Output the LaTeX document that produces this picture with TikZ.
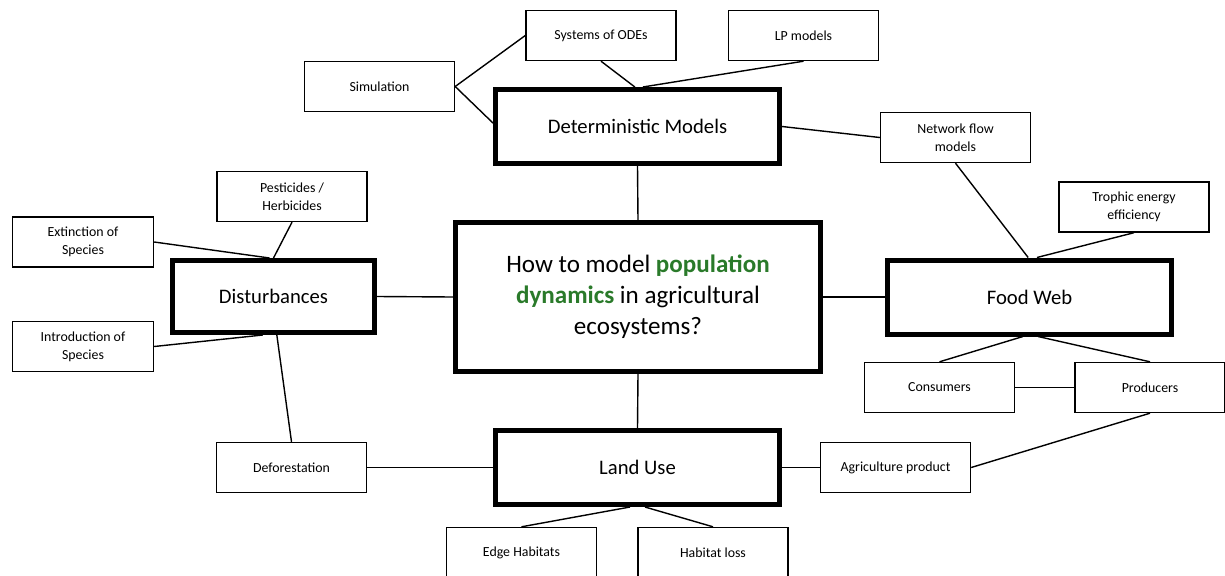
\documentclass[tikz,border=0pt]{standalone}
\usepackage{fontspec}
\setmainfont{Carlito}
\definecolor{popgreen}{RGB}{42,122,42}
\begin{document}
\begin{tikzpicture}[x=0.75pt,y=-0.75pt,
  small/.style={draw,line width=1.05pt,minimum width=112.5pt,minimum height=37.5pt,inner sep=0pt,align=center,font=\fontsize{10.4}{13.8}\selectfont},
  big/.style={draw,line width=3.75pt,minimum width=213pt,minimum height=55.5pt,inner sep=0pt,align=center,font=\fontsize{15.5}{19}\selectfont},
  link/.style={line width=1.05pt}]
\useasboundingbox (0,0) rectangle (1225,575);
% main nodes
\node[draw,line width=3.75pt,minimum width=273.75pt,minimum height=111.75pt,inner sep=0pt,align=center,font=\fontsize{18.8}{23.2}\selectfont] (q) at (638,297)
  {How to model {\color{popgreen}\bfseries population}\\{\color{popgreen}\bfseries dynamics} in agricultural\\ecosystems?};
\node[big] (det) at (637.5,126.5) {Deterministic Models};
\node[big] (lu) at (637.5,467.5) {Land Use};
\node[big] (fw) at (1029.5,297) {Food Web};
\node[big,minimum width=151.5pt,minimum height=54pt] (dist) at (273.5,296.5) {Disturbances};
% small nodes
\node[small] (ode) at (601,35.5) {Systems of ODEs};
\node[small] (lp) at (803.5,35.5) {LP models};
\node[small] (sim) at (379.5,86.5) {Simulation};
\node[small] (net) at (955.5,137.5) {Network flow\\models};
\node[small] (tro) at (1134,207) {Trophic energy\\efficiency};
\node[small] (con) at (939.5,387.5) {Consumers};
\node[small] (pro) at (1150,387.5) {Producers};
\node[small] (pes) at (292,196.5) {Pesticides /\\Herbicides};
\node[small,minimum width=105.75pt] (ext) at (83,242) {Extinction of\\Species};
\node[small,minimum width=105.75pt] (intro) at (83,346.5) {Introduction of\\Species};
\node[small] (defo) at (291.5,467.5) {Deforestation};
\node[small] (agri) at (895.5,467.5) {Agriculture product};
\node[small] (edge) at (521.5,552.5) {Edge Habitats};
\node[small] (hloss) at (713,552.5) {Habitat loss};
% connectors
\draw[link] (sim.east) -- (ode.west);
\draw[link] (sim.east) -- ([yshift=2.6pt]det.west);
\draw[link] (ode.south) -- ([xshift=-2pt]det.north);
\draw[link] (lp.south) -- ([xshift=4pt]det.north);
\draw[link] (det.east) -- (net.west);
\draw[link] (det.south) -- (q.north);
\draw[link] (q.south) -- (lu.north);
\draw[link] (q.west) -- (dist.east);
\draw[link] (q.east) -- (fw.west);
\draw[link] (net.south) -- ([xshift=-1pt]fw.north);
\draw[link] (tro.south) -- ([xshift=5.6pt]fw.north);
\draw[link] ([xshift=-4.9pt]fw.south) -- (con.north);
\draw[link] ([xshift=6.4pt]fw.south) -- (pro.north);
\draw[link] (con.east) -- (pro.west);
\draw[link] (pro.south) -- (agri.east);
\draw[link] (agri.west) -- (lu.east);
\draw[link] (defo.east) -- (lu.west);
\draw[link] (defo.north) -- ([xshift=2.5pt]dist.south);
\draw[link] (pes.south) -- (dist.north);
\draw[link] (ext.east) -- ([xshift=-3pt]dist.north);
\draw[link] (intro.east) -- ([xshift=-8pt]dist.south);
\draw[link] ([xshift=-5.6pt]lu.south) -- (edge.north);
\draw[link] ([xshift=5.6pt]lu.south) -- (hloss.north);
\end{tikzpicture}
\end{document}
